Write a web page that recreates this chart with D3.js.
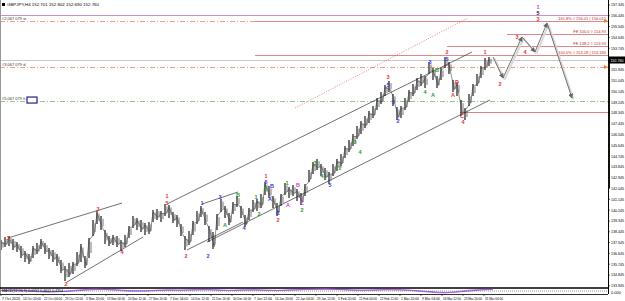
<!DOCTYPE html>
<html>
<head>
<meta charset="utf-8">
<script src="https://cdn.jsdelivr.net/npm/d3@7"></script>
<style>
body { margin: 0; background: #fff; }
svg { display: block; font-family: "Liberation Sans", "DejaVu Sans", sans-serif; }
</style>
</head>
<body>
<div id="chart"></div>
<script>
// GBPJPY H4 elliott count chart, mt4 style
let W = 625, H = 301
let plotRight = 608, mainBottom = 288

let symbol = 'GBPJPY,H4'
let quote = [152.701, 152.802, 152.690, 152.760]
let currentPrice = 152.76

// price samples, one every 6 bars (H4)
let barStep = 6
let highs = [137.76,138.01,138.09,137.84,137.59,137.26,136.84,136.59,137.26,137.51,137.84,137.51,137.09,136.93,136.59,136.09,135.59,135.84,135.93,136.76,137.43,136.43,137.93,139.43,140.18,139.76,138.59,138.09,138.18,138.09,137.76,138.18,138.93,139.76,139.59,139.43,139.18,139.26,140.26,140.34,140.18,140.76,140.68,140.09,139.84,139.09,138.09,138.51,139.34,140.18,140.59,140.09,138.93,138.43,139.93,141.18,140.59,140.01,140.93,141.43,140.59,139.84,140.43,141.09,141.18,141.59,142.59,142.26,141.43,140.84,141.59,142.51,142.18,142.34,142.01,141.68,142.43,143.59,144.26,144.51,144.09,143.76,143.43,144.09,144.51,144.93,145.59,146.09,146.59,147.26,147.68,148.09,148.51,148.93,149.59,150.09,150.68,151.01,149.93,148.84,148.93,149.59,150.26,150.76,151.26,151.59,151.43,152.59,152.09,151.43,152.09,153.01,152.59,151.09,150.93,149.43,148.76,149.93,150.76,151.59,152.26,152.93,153.01]
let lows = [136.93,137.18,137.26,136.93,136.76,136.26,135.93,135.76,136.26,136.59,137.01,136.59,136.18,135.93,135.59,135.01,134.34,134.68,134.93,135.59,135.93,135.43,136.26,138.09,139.09,138.59,137.43,137.26,137.34,137.18,136.84,137.18,137.93,138.76,138.59,138.43,138.18,138.26,139.26,139.43,139.26,139.76,139.59,139.18,138.84,138.09,136.93,137.34,138.18,139.09,139.68,139.01,137.59,137.01,138.59,140.09,139.59,139.01,139.93,140.51,139.59,138.84,139.43,140.09,140.18,140.43,141.51,141.26,140.43,139.76,140.59,141.51,141.26,141.43,141.01,140.68,141.43,142.59,143.26,143.59,143.09,142.76,142.43,143.09,143.51,143.93,144.59,145.09,145.59,146.18,146.59,147.09,147.51,147.93,148.59,149.09,149.76,150.09,148.93,147.76,147.93,148.59,149.26,149.76,150.26,150.59,150.43,151.59,151.09,150.43,151.09,152.09,151.59,150.09,149.76,148.09,147.76,148.93,149.76,150.59,151.26,151.93,152.26]

let dateLabels = ['7 Oct 2020','14 Oct 20:00','22 Oct 04:00','29 Oct 12:00','5 Nov 20:00','13 Nov 04:00','20 Nov 12:00','27 Nov 20:00','7 Dec 04:00','14 Dec 12:00','21 Dec 20:00','30 Dec 04:00','7 Jan 12:00','14 Jan 20:00','22 Jan 04:00','29 Jan 12:00','5 Feb 20:00','15 Feb 04:00','22 Feb 12:00','1 Mar 20:00','9 Mar 04:00','16 Mar 12:00','23 Mar 20:00','31 Mar 04:00']
let barsPerLabel = 31.5

let priceTicks = [157.345,156.445,155.545,154.645,153.745,152.845,151.945,151.045,150.145,149.245,148.345,147.445,146.545,145.645,144.745,143.845,142.945,142.045,141.145,140.245,139.345,138.445,137.545,136.645,135.745,134.845,133.945]

// trend lines [bar, price, bar, price]
let trendLines = [
    [10.5, 137.93, 181.5, 140.84],
    [99, 134.26, 213, 138.01],
    [249, 140.76, 706.5, 153.43],
    [309, 137.59, 733.5, 149.43],
    [301.5, 140.76, 355.5, 141.76],
    [279, 136.93, 363, 139.26]
]
let dottedLine = [441, 148.76, 700.5, 156.26]

// projected path
let projBars = [738, 753, 781.5, 801, 819, 856.5]
let projPrices = [153.01, 151.26, 154.68, 153.43, 155.84, 149.59]

// fibo levels
let fiboPrices = [156.01, 154.93, 153.93, 153.18]
let fiboStart = [381, 759, 669, 381]
let fiboText = ['161.8% \u25CA 156.01 | 156.015', 'FE 100.0 \u25CA 154.93', 'FE 138.2 \u25CA 153.93', '100.0% \u25CA 153.18 | 153.180']

// wave labels
let waveBars = [10.5,97.5,145.5,181.5,249,249,277.5,301.5,310.5,328.5,336,355.5,364.5,382.5,387,396,397.5,397.5,403.5,406.5,415.5,415.5,429,430.5,445.5,451.5,451.5,471,481.5,493.5,508.5,531,538.5,580.5,580.5,588,595.5,636,643.5,648,654,669,669,678,684,691.5,693,726,748.5,774,786,805.5,805.5,805.5]
let wavePrices = [137.93,134.09,140.34,136.76,141.43,140.84,136.43,140.84,136.43,141.34,139.01,141.51,138.76,141.34,139.93,142.01,143.09,142.59,141.18,142.26,140.01,139.43,142.51,140.68,142.34,140.84,140.26,144.18,143.09,142.34,143.76,145.93,145.09,151.34,150.68,149.26,147.68,150.09,152.59,149.84,151.93,153.43,152.84,149.84,150.93,148.09,147.59,153.43,150.76,154.68,153.43,157.18,156.68,156.18]
let waveText = ['1','2','3','4','1','5','2','1','2','3','A','B','4','1','2','3','1','5','A','B','C','2','1','A','B','C','2','3','4','5','2','3','4','3','5','1','2','4','3','A','B','2','5','A','D','C','4','1','2','3','4','1','5','3']
let waveColor = ['r','r','r','r','r','r','r','b','b','b','g','g','b','g','g','g','r','b','b','b','b','r','g','m','m','m','g','g','g','b','g','g','g','r','b','b','b','g','b','g','g','r','b','r','r','r','r','r','r','r','r','m','k','r']
let palette = {r: '#e8323c', b: '#3a3ae0', g: '#22a022', m: '#d040d0', k: '#222'}

// oscillator panel, one value every 18 bars
let oscStep = 18
let macdMain = [0.2,0.4,0.1,-0.3,-0.5,-0.2,0.3,0.7,0.9,0.6,0.2,-0.1,0.1,0.4,0.5,0.3,0.6,0.7,0.4,0.2,0.5,0.6,0.3,0.2,0.5,0.7,0.9,1.0,0.7,0.4,0.3,0.5,0.7,0.6,0.3,-0.2,-0.7,-0.9,-0.3,0.4,0.7,0.8]
let macdSignal = [0.3,0.3,0.2,0.0,-0.3,-0.3,0.0,0.4,0.7,0.7,0.4,0.1,0.0,0.2,0.4,0.4,0.5,0.6,0.5,0.3,0.4,0.5,0.4,0.3,0.4,0.6,0.8,0.9,0.8,0.6,0.4,0.4,0.6,0.6,0.4,0.0,-0.4,-0.7,-0.5,0.0,0.5,0.7]

let x = d3.scaleLinear().domain([0, 910.5]).range([1, plotRight])
let y = d3.scaleLinear().domain([133.76, 157.76]).range([mainBottom, 0])
let yOsc = d3.scaleLinear().domain([-1.2, 1.2]).range([293.5, 288.5])

let svg = d3.select('#chart').append('svg').attr('width', W).attr('height', H)
svg.append('rect').attr('width', W).attr('height', H).attr('fill', '#fff')

let defs = svg.append('defs')
defs.append('marker').attr('id', 'arr').attr('viewBox', '0 0 8 8')
    .attr('refX', 7).attr('refY', 4).attr('markerWidth', 5).attr('markerHeight', 5)
    .attr('orient', 'auto').attr('markerUnits', 'userSpaceOnUse')
    .append('path').attr('d', 'M0,0 L8,4 L0,8 z').attr('fill', '#666')

let g = svg.append('g')

// horizontal objects spanning the chart
let hline = (price, x0, color, width, dash) => {
    g.append('line')
        .attr('x1', x0).attr('x2', plotRight)
        .attr('y1', Math.round(y(price)) + 0.5).attr('y2', Math.round(y(price)) + 0.5)
        .attr('stroke', color).attr('stroke-width', width)
        .attr('stroke-dasharray', dash || null)
}
hline(156.51, 0, '#c890c8', 1.2)
hline(156.01, 0, '#f0a080', 1, '5,2,1,2')
hline(currentPrice, 0, '#c8c8c8', 1)
hline(152.18, 0, '#f0a080', 1, '5,2,1,2')
hline(149.34, 0, '#90c890', 1, '5,2,1,2')
hline(148.43, x(688.5), '#e08080', 1)

fiboPrices.forEach((p, i) => {
    hline(p, x(fiboStart[i]), '#e08888', 1)
    g.append('text').attr('x', 606).attr('y', y(p) - 1.2)
        .attr('text-anchor', 'end').attr('font-size', 4)
        .attr('fill', '#c03030').text(fiboText[i])
})

// left side object labels
let leftLabels = [[156.01, '#2.067 079 w'], [152.18, '#3.067 079 d'], [149.34, '#5.067 079 h']]
leftLabels.forEach(d => {
    g.append('text').attr('x', 2).attr('y', y(d[0]) - 1)
        .attr('font-size', 4).attr('fill', '#333').text(d[1])
})
g.append('rect').attr('x', 27).attr('y', y(149.34) - 4).attr('width', 10).attr('height', 6)
    .attr('fill', '#fff').attr('stroke', '#202090').attr('stroke-width', 1.2)

// orange markers on the scale
;[156.01, 152.18].forEach(p => {
    g.append('path')
        .attr('d', `M${plotRight - 4},${y(p) - 2} L${plotRight},${y(p)} L${plotRight - 4},${y(p) + 2} z`)
        .attr('fill', '#f08030')
})

// trend lines
trendLines.forEach(d => {
    g.append('line')
        .attr('x1', x(d[0])).attr('y1', y(d[1])).attr('x2', x(d[2])).attr('y2', y(d[3]))
        .attr('stroke', '#333').attr('stroke-width', 0.7)
})
g.append('line')
    .attr('x1', x(dottedLine[0])).attr('y1', y(dottedLine[1]))
    .attr('x2', x(dottedLine[2])).attr('y2', y(dottedLine[3]))
    .attr('stroke', '#e06060').attr('stroke-width', 0.8).attr('stroke-dasharray', '1,1.5')

// price bars
let samples = highs.map((h, i) => ({bar: i * barStep, hi: h, lo: lows[i]}))
g.selectAll('.bar').data(samples).enter().append('line')
    .attr('class', 'bar')
    .attr('x1', d => x(d.bar)).attr('x2', d => x(d.bar))
    .attr('y1', d => y(d.hi)).attr('y2', d => y(d.lo))
    .attr('stroke', '#1a1a1a').attr('stroke-width', 1.2)
g.selectAll('.bar2').data(samples).enter().append('line')
    .attr('class', 'bar2')
    .attr('x1', d => x(d.bar + 3)).attr('x2', d => x(d.bar + 3))
    .attr('y1', d => y(d.hi - (d.hi - d.lo) * 0.2)).attr('y2', d => y(d.lo + (d.hi - d.lo) * 0.25))
    .attr('stroke', '#666').attr('stroke-width', 0.9)
let zig = d3.line().x((d, i) => x(d.bar + (i % 2) * 2)).y((d, i) => y(i % 2 ? d.lo + 0.2 : d.hi - 0.2))
g.append('path').datum(samples).attr('d', zig)
    .attr('fill', 'none').attr('stroke', '#444').attr('stroke-width', 0.6)

// projected path
let proj = projBars.map((b, i) => [x(b), y(projPrices[i])])
for (let i = 0; i < proj.length - 1; i++) {
    g.append('line')
        .attr('x1', proj[i][0] + 1.5).attr('y1', proj[i][1] + 1.5)
        .attr('x2', proj[i + 1][0] + 1.5).attr('y2', proj[i + 1][1] + 1.5)
        .attr('stroke', '#d8d8d8').attr('stroke-width', 2)
    g.append('line')
        .attr('x1', proj[i][0]).attr('y1', proj[i][1])
        .attr('x2', proj[i + 1][0]).attr('y2', proj[i + 1][1])
        .attr('stroke', '#666').attr('stroke-width', 0.9)
        .attr('marker-end', 'url(#arr)')
}

// wave labels
waveText.forEach((t, i) => {
    g.append('text')
        .attr('x', x(waveBars[i])).attr('y', y(wavePrices[i]) + 2)
        .attr('text-anchor', 'middle').attr('font-size', 5.5).attr('font-weight', 'bold')
        .attr('fill', palette[waveColor[i]]).text(t)
})

// frame and right scale
g.append('line').attr('x1', 0.5).attr('x2', 0.5).attr('y1', 0).attr('y2', 294).attr('stroke', '#999')
g.append('line').attr('x1', plotRight + 0.5).attr('x2', plotRight + 0.5).attr('y1', 0).attr('y2', 294).attr('stroke', '#000')
g.append('line').attr('x1', plotRight + 1).attr('x2', plotRight + 1).attr('y1', y(currentPrice) + 3).attr('y2', 188).attr('stroke', '#111').attr('stroke-width', 2)

priceTicks.forEach(p => {
    if (Math.abs(y(p) - y(currentPrice)) < 5) return
    g.append('line').attr('x1', plotRight).attr('x2', plotRight + 2)
        .attr('y1', y(p)).attr('y2', y(p)).attr('stroke', '#000').attr('stroke-width', 0.6)
    g.append('text').attr('x', plotRight + 3).attr('y', y(p) + 1.5)
        .attr('font-size', 4.2).attr('fill', '#000')
        .attr('textLength', 13).attr('lengthAdjust', 'spacingAndGlyphs')
        .text(p.toFixed(3))
})
g.append('rect').attr('x', plotRight + 1).attr('y', y(currentPrice) - 3.5)
    .attr('width', W - plotRight - 1).attr('height', 7).attr('fill', '#000')
g.append('text').attr('x', plotRight + 2.5).attr('y', y(currentPrice) + 1.6)
    .attr('font-size', 4.2).attr('fill', '#fff')
    .attr('textLength', 13).attr('lengthAdjust', 'spacingAndGlyphs')
    .text(currentPrice.toFixed(3))

// title
g.append('rect').attr('x', 2).attr('y', 3).attr('width', 3).attr('height', 3).attr('fill', '#000')
g.append('text').attr('x', 7).attr('y', 6.3).attr('font-size', 4.4).attr('fill', '#000')
    .text(symbol + '  ' + quote.map(q => q.toFixed(3)).join(' '))

// oscillator panel
g.append('line').attr('x1', 0).attr('x2', plotRight).attr('y1', mainBottom).attr('y2', mainBottom)
    .attr('stroke', '#000').attr('stroke-width', 1.6)
g.append('line').attr('x1', 0).attr('x2', plotRight).attr('y1', yOsc(0)).attr('y2', yOsc(0))
    .attr('stroke', '#555').attr('stroke-width', 0.6).attr('stroke-dasharray', '1,1')
let oscLine = d3.line().x((d, i) => x(i * oscStep)).y(d => yOsc(d)).curve(d3.curveMonotoneX)
g.append('path').datum(macdSignal).attr('d', oscLine).attr('fill', 'none').attr('stroke', '#3a3ae0').attr('stroke-width', 0.7)
g.append('path').datum(macdMain).attr('d', oscLine).attr('fill', 'none').attr('stroke', '#c050c8').attr('stroke-width', 0.8)
g.append('text').attr('x', 2).attr('y', 291.5).attr('font-size', 3.6).attr('fill', '#000')
    .text('MACD(12,26,9) 0.0152 0.4602 0.4354')
g.append('text').attr('x', plotRight + 3).attr('y', 293.5).attr('font-size', 4).attr('fill', '#000').text('0.000')
g.append('line').attr('x1', 0).attr('x2', plotRight).attr('y1', 294.5).attr('y2', 294.5).attr('stroke', '#000').attr('stroke-width', 0.8)

// time axis
dateLabels.forEach((t, i) => {
    let xp = x(i * barsPerLabel)
    g.append('line').attr('x1', xp).attr('x2', xp).attr('y1', 294.5).attr('y2', 296).attr('stroke', '#000').attr('stroke-width', 0.6)
    g.append('text').attr('x', xp + 1).attr('y', 299.5).attr('font-size', 3.8).attr('fill', '#000')
        .attr('textLength', 18).attr('lengthAdjust', 'spacingAndGlyphs')
        .text(t)
})
</script>
</body>
</html>
